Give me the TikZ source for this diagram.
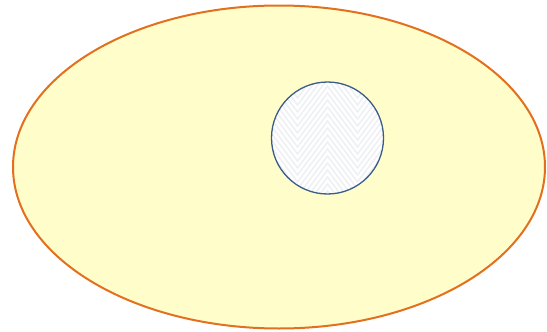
\documentclass[tikz,border=0pt]{standalone}
\begin{document}
\begin{tikzpicture}[x=1pt,y=-1pt]
\definecolor{cellfill}{HTML}{FFFDC9}
\definecolor{cellline}{HTML}{E2701E}
\definecolor{nucline}{HTML}{3C5C8C}
\definecolor{chev}{HTML}{EEF0F3}
\tikzset{cell/.style={fill=cellfill,draw=cellline,line width=2pt},
         nucleus/.style={draw=nucline,line width=1.3pt},
         chevron/.style={draw=chev,line width=1.5pt}}
\useasboundingbox (0,0) rectangle (547,332);
\draw[cell] (279,167) ellipse [x radius=266, y radius=161.5];
\fill[white] (327.5,138) circle [radius=56];
\begin{scope}
\clip (327.5,138) circle [radius=56];
\foreach \k in {0,...,24}{
  \draw[chevron] (267.5,{30+7*\k}) -- (297.5,{30+7*\k+40}) -- (327.5,{30+7*\k})
     -- (357.5,{30+7*\k+40}) -- (387.5,{30+7*\k});
}
\end{scope}
\draw[nucleus] (327.5,138) circle [radius=56];
\end{tikzpicture}
\end{document}
